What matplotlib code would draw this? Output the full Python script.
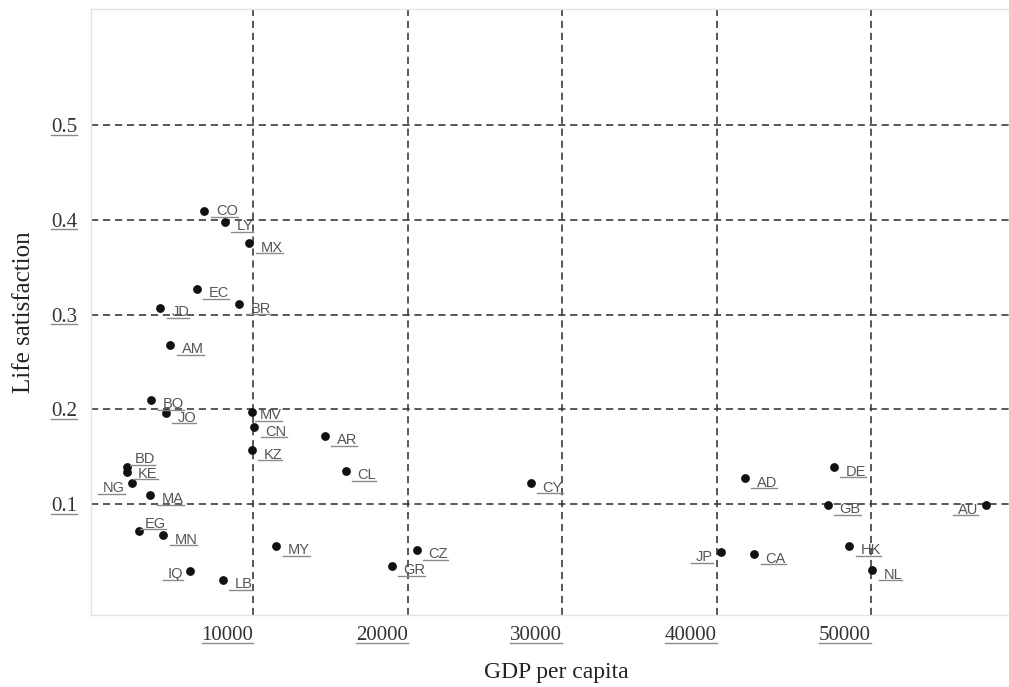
import matplotlib
matplotlib.use("Agg")
import matplotlib.pyplot as plt
from matplotlib.lines import Line2D

# ---- data ----
countries = ["CO", "LY", "MX", "EC", "BR", "JD", "AM", "BO", "JO", "MV", "CN", "KZ",
             "BD", "KE", "NG", "MA", "EG", "MN", "MY", "IQ", "LB", "AR", "CL", "CZ",
             "GR", "CY", "AD", "DE", "GB", "AU", "JP", "CA", "HK", "NL"]
gdp = [6795, 8155, 9710, 6341, 9062, 3945, 4593, 3362, 4333, 9904, 10034, 9904,
       1807, 1807, 2131, 3297, 2585, 4139, 11459, 5888, 8025, 14632, 15993, 20592,
       18972, 27976, 41838, 47603, 47215, 57449, 40290, 42428, 48581, 50071]
life = [0.409, 0.398, 0.375, 0.327, 0.311, 0.307, 0.268, 0.210, 0.196, 0.197, 0.181, 0.157,
        0.139, 0.134, 0.122, 0.110, 0.072, 0.067, 0.056, 0.029, 0.020, 0.172, 0.135, 0.052,
        0.035, 0.122, 0.127, 0.139, 0.099, 0.099, 0.049, 0.047, 0.056, 0.030]
x_ticks = [10000, 20000, 30000, 40000, 50000]
y_ticks = [0.1, 0.2, 0.3, 0.4, 0.5]

# ---- label layout (pixel offsets: dx, dy(down), side) ----
default_off = (11.5, 3.5, "right")
label_off = {
    "CO": (12, -1, "right"),
    "MV": (8, 2, "right"),
    "BD": (8, -9, "right"),
    "KE": (11, 1, "right"),
    "EG": (6, -8, "right"),
    "NG": (-7, 4, "left"),
    "IQ": (-7, 2, "left"),
    "JP": (-8, 4, "left"),
    "AU": (-8, 4, "left"),
}

DPI = 100
fig = plt.figure(figsize=(10.09, 6.87), dpi=DPI)
ax = fig.add_axes([91 / 1009, 72 / 687, 918 / 1009, 606 / 687])
ax.set_xlim(-525, 58940)
ax.set_ylim(-0.0171, 0.6225)

for s in ["top", "left", "bottom"]:
    ax.spines[s].set_color("#e2e2e2")
    ax.spines[s].set_linewidth(1.0)
ax.spines["right"].set_visible(False)

grid_kw = dict(color="#333333", linewidth=1.15, linestyle=(0, (4.5, 3)), zorder=1)
for xv in x_ticks:
    ax.axvline(xv, **grid_kw)
for yv in y_ticks:
    ax.axhline(yv, **grid_kw)

ax.scatter(gdp, life, s=40, color="#111111", zorder=3, linewidths=0)

ax.set_xticks(x_ticks)
ax.set_xticklabels([str(v) for v in x_ticks])
ax.set_yticks(y_ticks)
ax.set_yticklabels([f"{v:.1f}" for v in y_ticks])
ax.tick_params(length=0, labelsize=15, labelcolor="#333333")
for lab in ax.get_xticklabels():
    lab.set_family("Liberation Serif")
    lab.set_ha("right")
for lab in ax.get_yticklabels():
    lab.set_family("Liberation Serif")
ax.tick_params(axis="x", pad=8)
ax.tick_params(axis="y", pad=10)

ax.set_xlabel("GDP per capita", family="Liberation Serif", fontsize=17, color="#222222")
ax.set_ylabel("Life satisfaction", family="Liberation Serif", fontsize=18, color="#222222")
ax.xaxis.set_label_coords(0.5065, -0.0776)
ax.yaxis.set_label_coords(-0.0615, 0.5)

px2pt = 72.0 / DPI
texts = []
for c, gx, ly in zip(countries, gdp, life):
    dx, dy, side = label_off.get(c, default_off)
    base_dy = dy + 5  # convert visual centre to baseline
    t = ax.annotate(c, (gx, ly), xytext=(dx * px2pt, -base_dy * px2pt), textcoords="offset points",
                    ha="left" if side == "right" else "right", va="baseline",
                    fontsize=10.5, family="Liberation Sans", color="#555555", zorder=4)
    texts.append((t, gx, ly, base_dy))

fig.canvas.draw()
renderer = fig.canvas.get_renderer()

ul_kw = dict(color="#8a8a8a", linewidth=1.0, transform=None, zorder=5)
for t, gx, ly, base_dy in texts:
    bb = t.get_window_extent(renderer)
    dxy = ax.transData.transform((gx, ly))
    ybase = dxy[1] - base_dy - 1.5
    fig.add_artist(Line2D([bb.x0 - 5, bb.x1], [ybase, ybase], **ul_kw))

for lab in ax.get_xticklabels() + ax.get_yticklabels():
    bb = lab.get_window_extent(renderer)
    y = bb.y0 + 2.5
    fig.add_artist(Line2D([bb.x0, bb.x1], [y, y], **ul_kw))

fig.savefig("out.png", dpi=DPI)
